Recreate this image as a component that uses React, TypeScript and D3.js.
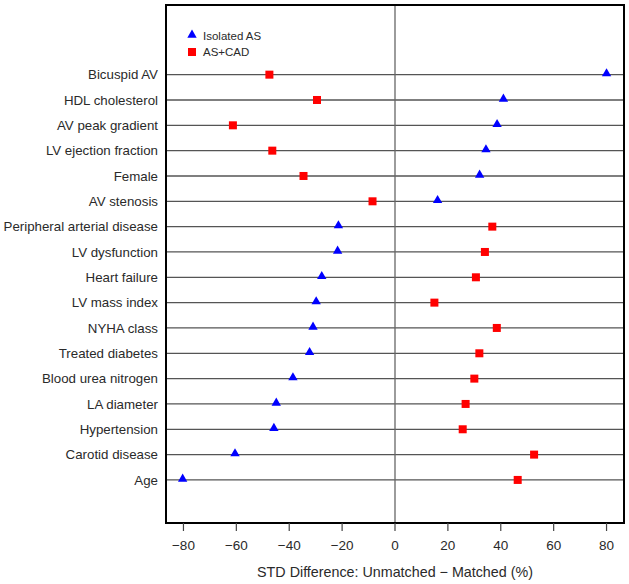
import React, { useEffect, useRef } from 'react';
import * as d3 from 'd3';

const categories = [
  'Bicuspid AV',
  'HDL cholesterol',
  'AV peak gradient',
  'LV ejection fraction',
  'Female',
  'AV stenosis',
  'Peripheral arterial disease',
  'LV dysfunction',
  'Heart failure',
  'LV mass index',
  'NYHA class',
  'Treated diabetes',
  'Blood urea nitrogen',
  'LA diameter',
  'Hypertension',
  'Carotid disease',
  'Age',
];
const isolatedAS = [80, 41, 38.6, 34.4, 32, 16.1, -21.4, -21.7, -27.7, -29.8, -31, -32.3, -38.6, -44.9, -45.8, -60.5, -80.3];
const asCad = [-47.5, -29.5, -61.3, -46.4, -34.6, -8.5, 36.8, 34, 30.6, 14.9, 38.5, 31.9, 30, 26.7, 25.6, 52.6, 46.4];
const xTicks = [-80, -60, -40, -20, 0, 20, 40, 60, 80];

const W = 629;
const H = 584;
const left = 166;
const right = 624;
const top = 5;
const bottom = 523;

const App = () => {
  const svgRef = useRef<SVGSVGElement>(null);

  useEffect(() => {
    const svg = d3.select(svgRef.current);
    svg.selectAll('*').remove();
    const font = 'Liberation Sans, Arial, sans-serif';

    const x = d3.scaleLinear().domain([-86.6, 86.6]).range([left, right]);
    const y = d3.scaleLinear().domain([-2.75, 17.7]).range([top, bottom]);

    // row lines
    svg
      .append('g')
      .selectAll('line')
      .data(categories)
      .join('line')
      .attr('x1', left)
      .attr('x2', right)
      .attr('y1', (d, i) => y(i))
      .attr('y2', (d, i) => y(i))
      .attr('stroke', '#555')
      .attr('stroke-width', 1.3);

    // zero line
    svg
      .append('line')
      .attr('x1', x(0))
      .attr('x2', x(0))
      .attr('y1', top)
      .attr('y2', bottom)
      .attr('stroke', '#666')
      .attr('stroke-width', 1.3);

    // category labels
    svg
      .append('g')
      .selectAll('text')
      .data(categories)
      .join('text')
      .attr('x', left - 8)
      .attr('y', (d, i) => y(i))
      .attr('dy', '0.35em')
      .attr('text-anchor', 'end')
      .attr('font-family', font)
      .attr('font-size', 13.3)
      .attr('fill', '#2a2a2a')
      .text((d) => d);

    // frame
    svg
      .append('rect')
      .attr('x', left)
      .attr('y', top)
      .attr('width', right - left)
      .attr('height', bottom - top)
      .attr('fill', 'none')
      .attr('stroke', '#000')
      .attr('stroke-width', 2);

    // x axis
    const axis = svg.append('g').attr('transform', `translate(0,${bottom})`);
    axis
      .selectAll('line')
      .data(xTicks)
      .join('line')
      .attr('x1', (d) => x(d))
      .attr('x2', (d) => x(d))
      .attr('y1', 0)
      .attr('y2', 8)
      .attr('stroke', '#444')
      .attr('stroke-width', 1.2);
    axis
      .selectAll('text')
      .data(xTicks)
      .join('text')
      .attr('x', (d) => x(d))
      .attr('y', 22)
      .attr('dy', '0.35em')
      .attr('text-anchor', 'middle')
      .attr('font-family', font)
      .attr('font-size', 13.5)
      .attr('fill', '#2a2a2a')
      .text((d) => (d < 0 ? '\u2212' + Math.abs(d) : String(d)));

    svg
      .append('text')
      .attr('x', x(0))
      .attr('y', 572)
      .attr('dy', '0.35em')
      .attr('text-anchor', 'middle')
      .attr('font-family', font)
      .attr('font-size', 14.3)
      .attr('fill', '#2a2a2a')
      .text('STD Difference: Unmatched \u2212 Matched (%)');

    const tri = d3.symbol().type(d3.symbolTriangle).size(38);

    // isolated AS
    svg
      .append('g')
      .selectAll('path')
      .data(isolatedAS)
      .join('path')
      .attr('d', tri)
      .attr('transform', (d, i) => `translate(${x(d)},${y(i) - 1})`)
      .attr('fill', '#0000ff');

    // AS+CAD
    svg
      .append('g')
      .selectAll('rect')
      .data(asCad)
      .join('rect')
      .attr('x', (d) => x(d) - 4)
      .attr('y', (d, i) => y(i) - 4)
      .attr('width', 8)
      .attr('height', 8)
      .attr('fill', '#ff0000');

    // legend
    const lg = svg.append('g');
    lg.append('path').attr('d', tri).attr('transform', 'translate(192,35)').attr('fill', '#0000ff');
    lg.append('rect').attr('x', 188).attr('y', 48).attr('width', 8).attr('height', 8).attr('fill', '#ff0000');
    lg.append('text')
      .attr('x', 203)
      .attr('y', 36)
      .attr('dy', '0.35em')
      .attr('font-family', font)
      .attr('font-size', 11.5)
      .attr('fill', '#2a2a2a')
      .text('Isolated AS');
    lg.append('text')
      .attr('x', 203)
      .attr('y', 52)
      .attr('dy', '0.35em')
      .attr('font-family', font)
      .attr('font-size', 11.5)
      .attr('fill', '#2a2a2a')
      .text('AS+CAD');
  }, []);

  return (
    <svg
      ref={svgRef}
      width={W}
      height={H}
      style={{ position: 'absolute', left: 0, top: 0, background: '#fff' }}
    />
  );
};

export default App;
